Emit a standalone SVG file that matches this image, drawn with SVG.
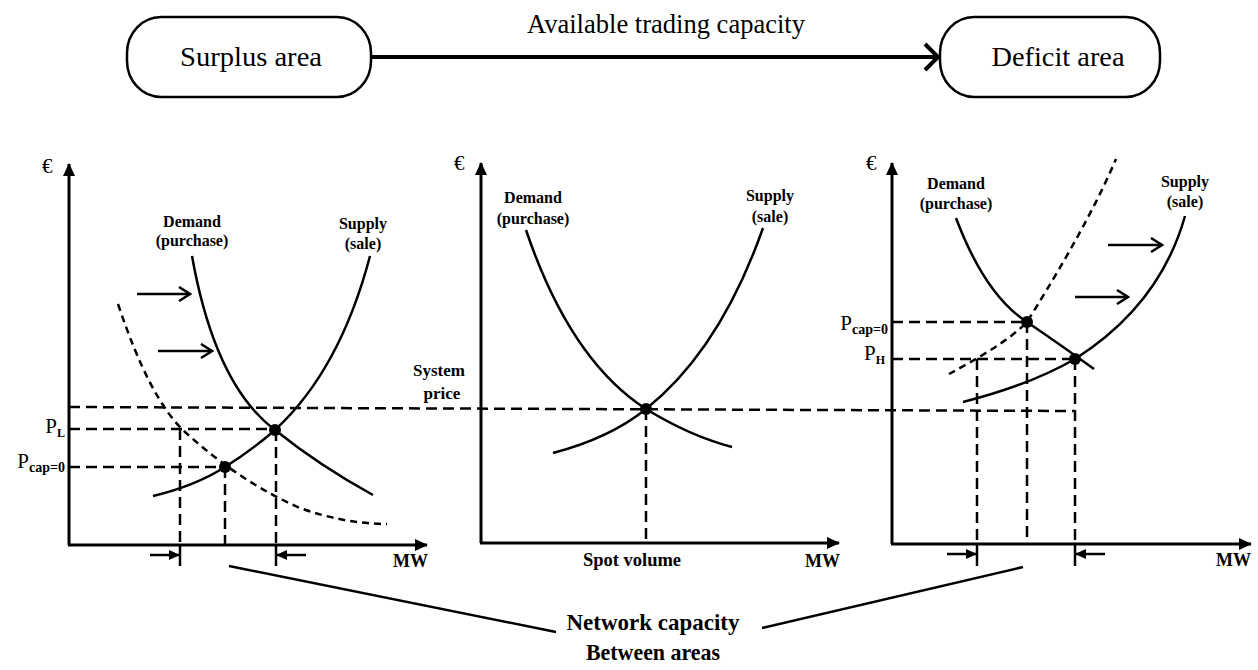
<svg xmlns="http://www.w3.org/2000/svg" width="1258" height="670" viewBox="0 0 1258 670">
<style>
text{font-family:"Liberation Serif","Times New Roman",serif;fill:#000}
.box{fill:#fff;stroke:#000;stroke-width:2.5}
.big{font-size:28px}
.lab{font-size:16px;font-weight:bold}
.mw{font-size:18px;font-weight:bold}
.ax{stroke:#000;stroke-width:3;fill:none;marker-end:url(#axh)}
.cur{stroke:#000;stroke-width:2.5;fill:none}
.dcur{stroke:#000;stroke-width:2.5;fill:none;stroke-dasharray:7 5}
.dl{stroke:#000;stroke-width:2.5;fill:none;stroke-dasharray:11 6}
.tk{stroke:#000;stroke-width:2.5}
.sa{stroke:#000;stroke-width:2.5;marker-end:url(#sh)}
.oa{stroke:#000;stroke-width:2.5;fill:none;marker-end:url(#oh)}
.pl{font-size:21px}
.sub{font-size:14px;font-weight:bold}
</style>
<defs>
<marker id="axh" markerUnits="userSpaceOnUse" markerWidth="14" markerHeight="12" refX="12" refY="6" orient="auto"><path d="M0,0 L13,6 L0,12 z" fill="#000"/></marker>
<marker id="sh" markerUnits="userSpaceOnUse" markerWidth="12" markerHeight="10" refX="10" refY="5" orient="auto"><path d="M0,0 L11,5 L0,10 z" fill="#000"/></marker>
<marker id="oh" markerUnits="userSpaceOnUse" markerWidth="14" markerHeight="16" refX="12" refY="8" orient="auto"><path d="M1,1 L12,8 L1,15" fill="none" stroke="#000" stroke-width="2.5"/></marker>
<marker id="th" markerUnits="userSpaceOnUse" markerWidth="18" markerHeight="30" refX="15" refY="15" orient="auto"><path d="M2,2 L15,15 L2,28" fill="none" stroke="#000" stroke-width="4"/></marker>
</defs>

<g id="surplus">
<rect class="box" x="127" y="17" width="244" height="80" rx="34" ry="36"/>
<text class="big" x="251" y="66" text-anchor="middle" textLength="142" lengthAdjust="spacingAndGlyphs">Surplus area</text>
</g>
<g id="deficit">
<rect class="box" x="940" y="17" width="220" height="80" rx="34" ry="36"/>
<text class="big" x="1058" y="66" text-anchor="middle" textLength="133" lengthAdjust="spacingAndGlyphs">Deficit area</text>
</g>
<g id="connectors">
<line x1="371" y1="57" x2="938" y2="57" stroke="#000" stroke-width="4" marker-end="url(#th)"/>
<text class="big" x="666" y="33" text-anchor="middle" textLength="278" lengthAdjust="spacingAndGlyphs">Available trading capacity</text>
<line x1="229" y1="566" x2="556" y2="632" stroke="#000" stroke-width="2.5"/>
<line x1="762" y1="628" x2="1023" y2="567" stroke="#000" stroke-width="2.5"/>
<line class="dl" x1="69" y1="407" x2="1075" y2="411"/>
</g>

<g id="chart-surplus">
<line class="ax" x1="69" y1="545" x2="69" y2="164"/>
<line class="ax" x1="68" y1="545" x2="427" y2="545"/>
<text class="pl" x="42" y="173">€</text>
<text class="mw" x="393" y="567">MW</text>
<text class="lab" x="192" y="227" text-anchor="middle">Demand</text>
<text class="lab" x="192" y="246" text-anchor="middle">(purchase)</text>
<text class="lab" x="363" y="229" text-anchor="middle">Supply</text>
<text class="lab" x="363" y="249" text-anchor="middle">(sale)</text>
<path class="cur" d="M192,256 Q215,385 275,430 Q320,466 373,495"/>
<path class="cur" d="M153,496 Q195,486 225,467 Q252,450 275,430 Q340,370 370,256"/>
<path class="dcur" d="M118,304 Q150,400 185,432 Q240,482 300,508 Q345,524 387,524"/>
<line class="dl" x1="69" y1="429" x2="275" y2="429"/>
<line class="dl" x1="69" y1="467" x2="225" y2="467"/>
<line class="dl" x1="180" y1="429" x2="180" y2="545"/>
<line class="dl" x1="225" y1="467" x2="225" y2="545"/>
<line class="dl" x1="276" y1="430" x2="276" y2="545"/>
<line class="tk" x1="180" y1="545" x2="180" y2="566"/>
<line class="tk" x1="276" y1="545" x2="276" y2="566"/>
<line class="sa" x1="150" y1="555" x2="179" y2="555"/>
<line class="sa" x1="306" y1="555" x2="277" y2="555"/>
<line class="oa" x1="137" y1="294" x2="190" y2="294"/>
<line class="oa" x1="158" y1="351" x2="212" y2="351"/>
<circle cx="225" cy="467" r="6"/>
<circle cx="275" cy="430" r="6"/>
<text class="pl" x="65" y="433" text-anchor="end">P<tspan class="sub" dy="4" style="font-size:12px">L</tspan></text>
<text class="pl" x="65" y="468" text-anchor="end">P<tspan class="sub" dy="4">cap=0</tspan></text>
</g>

<g id="chart-system">
<line class="ax" x1="481" y1="543" x2="481" y2="163"/>
<line class="ax" x1="480" y1="543" x2="839" y2="543"/>
<text class="pl" x="454" y="170">€</text>
<text class="mw" x="805" y="567">MW</text>
<text class="lab" x="533" y="203" text-anchor="middle">Demand</text>
<text class="lab" x="533" y="224" text-anchor="middle">(purchase)</text>
<text class="lab" x="770" y="201" text-anchor="middle">Supply</text>
<text class="lab" x="770" y="222" text-anchor="middle">(sale)</text>
<path class="cur" d="M526,230 Q570,360 646,409 Q690,436 732,447"/>
<path class="cur" d="M553,453 Q610,438 646,409 Q720,350 763,228"/>
<line class="dl" x1="646" y1="409" x2="646" y2="543"/>
<circle cx="646" cy="409" r="6"/>
<text class="lab" x="439" y="376" text-anchor="middle" style="font-size:17px">System</text>
<text class="lab" x="442" y="399" text-anchor="middle" style="font-size:17px">price</text>
<text class="lab" x="632" y="566" text-anchor="middle" style="font-size:18.5px">Spot volume</text>
</g>

<g id="chart-deficit">
<line class="ax" x1="892" y1="544" x2="892" y2="163"/>
<line class="ax" x1="891" y1="544" x2="1251" y2="544"/>
<text class="pl" x="866" y="170">€</text>
<text class="mw" x="1216" y="566">MW</text>
<text class="lab" x="956" y="189" text-anchor="middle">Demand</text>
<text class="lab" x="956" y="209" text-anchor="middle">(purchase)</text>
<text class="lab" x="1185" y="187" text-anchor="middle">Supply</text>
<text class="lab" x="1185" y="207" text-anchor="middle">(sale)</text>
<path class="cur" d="M956,218 Q985,295 1027,322 Q1065,348 1094,369"/>
<path class="cur" d="M963,402 Q1030,385 1075,359 Q1160,305 1185,216"/>
<path class="dcur" d="M949,374 C975,360 1010,340 1027,322 C1050,285 1090,220 1116,159"/>
<line class="dl" x1="892" y1="322" x2="1027" y2="322"/>
<line class="dl" x1="892" y1="359" x2="1075" y2="359"/>
<line class="dl" x1="977" y1="359" x2="977" y2="544"/>
<line class="dl" x1="1027" y1="322" x2="1027" y2="544"/>
<line class="dl" x1="1075" y1="359" x2="1075" y2="544"/>
<line class="tk" x1="977" y1="544" x2="977" y2="566"/>
<line class="tk" x1="1075" y1="544" x2="1075" y2="566"/>
<line class="sa" x1="947" y1="554" x2="976" y2="554"/>
<line class="sa" x1="1105" y1="554" x2="1076" y2="554"/>
<line class="oa" x1="1108" y1="245" x2="1162" y2="245"/>
<line class="oa" x1="1075" y1="297" x2="1128" y2="297"/>
<circle cx="1027" cy="322" r="6"/>
<circle cx="1075" cy="359" r="6"/>
<text class="pl" x="888" y="330" text-anchor="end">P<tspan class="sub" dy="4">cap=0</tspan></text>
<text class="pl" x="885" y="360" text-anchor="end">P<tspan class="sub" dy="4" style="font-size:12px">H</tspan></text>
</g>

<g id="caption">
<text x="653" y="630" text-anchor="middle" textLength="173" lengthAdjust="spacingAndGlyphs" style="font-size:23px;font-weight:bold">Network capacity</text>
<text x="653" y="660" text-anchor="middle" textLength="134" lengthAdjust="spacingAndGlyphs" style="font-size:23px;font-weight:bold">Between areas</text>
</g>
</svg>
